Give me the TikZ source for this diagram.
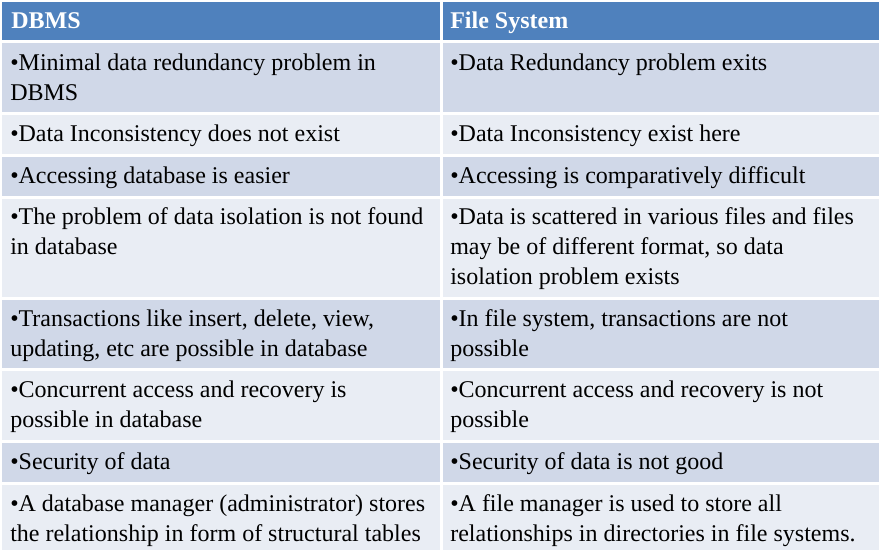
\documentclass[tikz,border=0pt]{standalone}
\usepackage{fontspec}
\setmainfont{Liberation Serif}
\usetikzlibrary{positioning}
\definecolor{hdrblue}{HTML}{4F81BD}
\definecolor{rowdark}{HTML}{D0D8E8}
\definecolor{rowlight}{HTML}{E9EDF4}
\tikzset{
  % Table cell
  cell/.style={fill=#1, draw=white, line width=2.25pt},
  % Cell text
  txt/.style={anchor=north west, inner sep=0pt, align=left,
    font=\fontsize{18pt}{22.5pt}\selectfont},
  % Header text
  htxt/.style={txt, text=white,
    font=\fontsize{18pt}{22.5pt}\selectfont\bfseries},
}

\begin{document}
\begin{tikzpicture}[x=0.75pt, y=-0.75pt]
  \useasboundingbox (0,0) rectangle (880,551);

  % Cells
  \draw[cell=hdrblue] (0,0) rectangle (441,41.5);
  \draw[cell=hdrblue] (441,0) rectangle (880,41.5);
  \draw[cell=rowdark] (0,41.5) rectangle (441,113);
  \draw[cell=rowdark] (441,41.5) rectangle (880,113);
  \draw[cell=rowlight] (0,113) rectangle (441,155);
  \draw[cell=rowlight] (441,113) rectangle (880,155);
  \draw[cell=rowdark] (0,155) rectangle (441,197);
  \draw[cell=rowdark] (441,155) rectangle (880,197);
  \draw[cell=rowlight] (0,197) rectangle (441,298.5);
  \draw[cell=rowlight] (441,197) rectangle (880,298.5);
  \draw[cell=rowdark] (0,298.5) rectangle (441,369);
  \draw[cell=rowdark] (441,298.5) rectangle (880,369);
  \draw[cell=rowlight] (0,369) rectangle (441,441);
  \draw[cell=rowlight] (441,369) rectangle (880,441);
  \draw[cell=rowdark] (0,441) rectangle (441,483);
  \draw[cell=rowdark] (441,441) rectangle (880,483);
  \draw[cell=rowlight] (0,483) rectangle (441,551);
  \draw[cell=rowlight] (441,483) rectangle (880,551);

  % Header
  \node[htxt] (hL) at (11,7) {\strut DBMS};
  \node[htxt] (hR) at (450,7) {\strut File System};

  % Rows
  \node[txt] (r1L) at (10,49) {\strut •Minimal data redundancy problem in\\DBMS};
  \node[txt] (r1R) at (450,49) {\strut •Data Redundancy problem exits};
  \node[txt] (r2L) at (10,120) {\strut •Data Inconsistency does not exist};
  \node[txt] (r2R) at (450,120) {\strut •Data Inconsistency exist here};
  \node[txt] (r3L) at (10,162) {\strut •Accessing database is easier};
  \node[txt] (r3R) at (450,162) {\strut •Accessing is comparatively difficult};
  \node[txt] (r4L) at (10,203) {\strut •The problem of data isolation is not found\\in database};
  \node[txt] (r4R) at (450,203) {\strut •Data is scattered in various files and files\\may be of different format, so data\\isolation problem exists};
  \node[txt] (r5L) at (10,305) {\strut •Transactions like insert, delete, view,\\updating, etc are possible in database};
  \node[txt] (r5R) at (450,305) {\strut •In file system, transactions are not\\possible};
  \node[txt] (r6L) at (10,376) {\strut •Concurrent access and recovery is\\possible in database};
  \node[txt] (r6R) at (450,376) {\strut •Concurrent access and recovery is not\\possible};
  \node[txt] (r7L) at (10,448) {\strut •Security of data};
  \node[txt] (r7R) at (450,448) {\strut •Security of data is not good};
  \node[txt] (r8L) at (10,490) {\strut •A database manager (administrator) stores\\the relationship in form of structural tables};
  \node[txt] (r8R) at (450,490) {\strut •A file manager is used to store all\\relationships in directories in file systems.};
\end{tikzpicture}
\end{document}
